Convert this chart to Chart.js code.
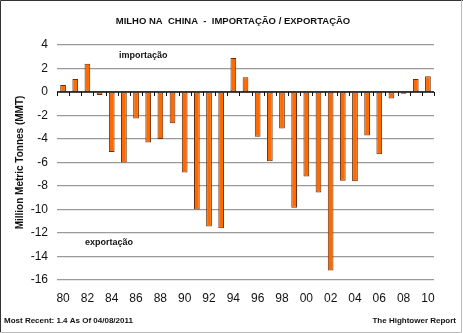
<!DOCTYPE html>
<html>
<head>
<meta charset="utf-8">
<script src="https://cdn.jsdelivr.net/npm/chart.js@4/dist/chart.umd.min.js"></script>
<style>
  html, body { margin: 0; padding: 0; background: #fff; }
  #wrap { width: 463px; height: 333px; }
</style>
</head>
<body>
<div id="wrap"><canvas id="chart" width="463" height="333"></canvas></div>
<script>
// Years 1980..2010, two-digit labels
const years = ['80','81','82','83','84','85','86','87','88','89','90','91','92','93','94','95',
               '96','97','98','99','00','01','02','03','04','05','06','07','08','09','10'];

// Net trade, million metric tonnes (positive = import, negative = export)
const netTrade = [0.6, 1.1, 2.4, -0.25, -5.1, -6.0, -2.25, -4.3, -4.0, -2.65, -6.85, -10.0, -11.45, -11.6,
                  2.9, 1.25, -3.8, -5.9, -3.1, -9.85, -7.2, -8.55, -15.2, -7.55, -7.6, -3.7, -5.3, -0.55, -0.15, 1.1, 1.35];

const yTicks = [4, 2, 0, -2, -4, -6, -8, -10, -12, -14, -16];

const FONT = 'Arial, "Liberation Sans", sans-serif';

// title, frame, zero-line tick marks, notes and footer
const decorations = {
  id: 'decorations',
  beforeDraw(chart) {
    const ctx = chart.ctx;
    ctx.save();
    ctx.fillStyle = '#fff';
    ctx.fillRect(0, 0, chart.width, chart.height);
    ctx.restore();
  },
  afterDatasetsDraw(chart) {
    const ctx = chart.ctx;
    const x = chart.scales.x;
    const y = chart.scales.y;
    const y0 = y.getPixelForValue(0);
    ctx.save();
    // zero line
    ctx.strokeStyle = '#111';
    ctx.lineWidth = 1.5;
    ctx.beginPath();
    ctx.moveTo(chart.chartArea.left, y0);
    ctx.lineTo(chart.chartArea.right, y0);
    ctx.stroke();
    // tick marks between categories
    ctx.lineWidth = 1;
    const step = (x.getPixelForValue(1) - x.getPixelForValue(0));
    for (let i = 0; i <= years.length; i++) {
      const px = Math.round(x.getPixelForValue(i) - step / 2) + 0.5;
      ctx.beginPath();
      ctx.moveTo(px, y0);
      ctx.lineTo(px, y0 + 4);
      ctx.stroke();
    }
    ctx.fillStyle = '#111';
    ctx.textBaseline = 'middle';
    // title
    ctx.textAlign = 'center';
    ctx.font = 'bold 9.5px ' + FONT;
    ctx.fillText('MILHO NA  CHINA  -  IMPORTAÇÃO / EXPORTAÇÃO', 233, 21);
    // notes
    ctx.font = 'bold 9px ' + FONT;
    ctx.textAlign = 'left';
    ctx.fillText('importação', x.getPixelForValue(4.6), y.getPixelForValue(3.1));
    ctx.fillText('exportação', x.getPixelForValue(1.8), y.getPixelForValue(-12.8));
    // footer
    ctx.font = 'bold 8px ' + FONT;
    ctx.fillText('Most Recent: 1.4 As Of 04/08/2011', 4, 321);
    ctx.textAlign = 'right';
    ctx.fillText('The Hightower Report', 456, 321);
    // frame
    ctx.strokeStyle = '#333';
    ctx.lineWidth = 1;
    ctx.beginPath();
    ctx.moveTo(0.5, chart.height);
    ctx.lineTo(0.5, 0.5);
    ctx.lineTo(chart.width, 0.5);
    ctx.stroke();
    ctx.strokeStyle = '#bbb';
    ctx.beginPath();
    ctx.moveTo(chart.width - 1.5, 0);
    ctx.lineTo(chart.width - 1.5, chart.height - 0.5);
    ctx.lineTo(0, chart.height - 0.5);
    ctx.stroke();
    ctx.restore();
  }
};

new Chart(document.getElementById('chart'), {
  type: 'bar',
  data: {
    labels: years,
    datasets: [{
      data: netTrade,
      backgroundColor: '#ff6a00',
      borderColor: '#6b2e0a',
      borderWidth: 1,
      borderSkipped: false,
      categoryPercentage: 1,
      barPercentage: 0.47
    }]
  },
  options: {
    responsive: false,
    animation: false,
    devicePixelRatio: 1,
    layout: { padding: { left: 14, right: 29, top: 45, bottom: 24 } },
    plugins: {
      legend: { display: false },
      tooltip: { enabled: false },
      title: { display: false }
    },
    scales: {
      x: {
        grid: { display: false, drawTicks: false },
        border: { display: false },
        ticks: {
          autoSkip: false,
          maxRotation: 0,
          color: '#111',
          font: { family: FONT, size: 12 },
          padding: 11,
          callback: (v, i) => (i % 2 === 0 ? years[i] : '')
        },
        afterFit: s => { s.height = 29; }
      },
      y: {
        min: -16,
        max: 4,
        afterBuildTicks: s => { s.ticks = yTicks.map(v => ({ value: v })); },
        grid: {
          color: '#9a9a9a',
          lineWidth: 1.2,
          drawTicks: false
        },
        border: { display: false },
        ticks: {
          color: '#111',
          font: { family: FONT, size: 12 },
          padding: 9
        },
        title: {
          display: true,
          text: 'Million Metric Tonnes (MMT)',
          color: '#111',
          font: { family: FONT, size: 10, weight: 'bold' },
          padding: { top: 0, bottom: 4 }
        },
        afterFit: s => { s.width = 43; }
      }
    }
  },
  plugins: [decorations]
});
</script>
</body>
</html>
